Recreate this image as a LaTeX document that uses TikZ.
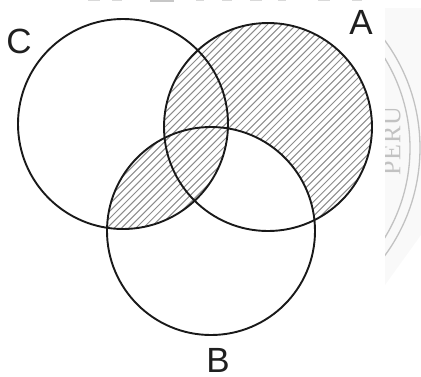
\documentclass[tikz,border=0pt]{standalone}
\usepackage{fontspec}
\setmainfont{Liberation Sans}
\newfontfamily\sealfont{Liberation Serif}
\definecolor{hatchgray}{gray}{0.55}
\definecolor{sealgray}{gray}{0.76}
\definecolor{sealback}{gray}{0.975}
\tikzset{
  ring/.style={draw=black!90,line width=1.9pt},
  setlabel/.style={font=\fontsize{35}{35}\selectfont,text=black!88,inner sep=0pt},
  sealline/.style={draw=sealgray,line width=1.3pt},
  hatchline/.style={draw=hatchgray,line width=1pt},
  topmark/.style={draw=black!15,line width=1.4pt}
}
\newcommand{\hatchfill}{%
  \foreach \k in {-60,...,120}{\draw[hatchline] (\k*7.2,400) -- (\k*7.2+400,0);}%
}
\begin{document}
\begin{tikzpicture}[x=1pt,y=-1pt]
\useasboundingbox (0,0) rectangle (421,376);
% remains of the scanned page around the figure
\fill[sealback] (385,8) -- (421,8) -- (421,235) -- (385,285) -- cycle;
\begin{scope}
\clip (385,8) rectangle (421,285);
\draw[sealline] (238,148) circle[radius=182];
\draw[sealline] (238,148) circle[radius=172];
\node[rotate=90,text=sealgray,font=\sealfont\fontsize{26}{26}\selectfont,inner sep=0pt] (peru) at (392,141) {P\kern1pt E\kern1pt R\kern1pt U};
\end{scope}
\foreach \a/\b in {88/100,112/122,196/204,222/232,250/262,278/286,318/330,352/362}{
  \draw[topmark] (\a,0.5) -- (\b,0.5);
}
\fill[black!22] (150,0) rectangle (174,2);
\begin{scope}
\clip (268,127) circle[radius=104];
\hatchfill
\fill[white] (211,231) circle[radius=104];
\end{scope}
\begin{scope}
\clip (211,231) circle[radius=104];
\clip (123,124) circle[radius=105];
\hatchfill
\end{scope}
\draw[ring] (123,124) circle[radius=105];
\draw[ring] (268,127) circle[radius=104];
\draw[ring] (211,231) circle[radius=104];
\node[setlabel] (labelC) at (19,41) {C};
\node[setlabel] (labelA) at (361,22) {A};
\node[setlabel] (labelB) at (218,360) {B};
\end{tikzpicture}
\end{document}
